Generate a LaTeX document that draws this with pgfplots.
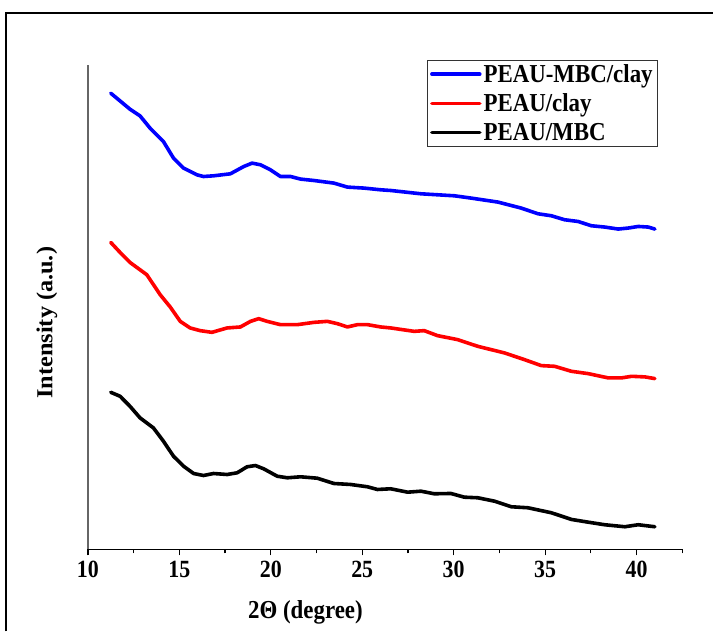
\documentclass[border=0pt]{standalone}
\usepackage{pgfplots}
\pgfplotsset{compat=1.18}
\usepackage{fontspec}
\setmainfont{Liberation Serif}
\newcommand{\vs}[1]{\scalebox{1}[1.13]{#1}}
\begin{document}
\begin{tikzpicture}
\begin{axis}[
  scale only axis,
  width=595bp, height=485bp,
  xmin=10, xmax=42.5, ymin=0, ymax=485,
  axis x line=bottom, axis y line=left,
  axis line style={-},
  x axis line style={black, line width=1.2bp},
  y axis line style={black!60, line width=1.2bp},
  xtick={10,15,...,40}, minor xtick={12.5,17.5,...,42.5},
  ytick=\empty,
  tick align=outside,
  major tick length=6bp, minor tick length=4bp,
  every tick/.style={black, line width=1.2bp},
  xticklabel={\vs{\pgfmathprintnumber[assume math mode=true]{\tick}}},
  tick label style={font=\fontsize{22}{26}\selectfont\bfseries},
  xticklabel style={yshift=-2bp},
  xlabel={\vs{2Θ (degree)}},
  ylabel={\scalebox{1.06}[1]{Intensity (a.u.)}},
  label style={font=\fontsize{23}{27}\selectfont\bfseries},
  xlabel style={at={(rel axis cs:0.366,0)}, anchor=center, yshift=-63bp},
  ylabel style={at={(rel axis cs:-0.069,0.468)}, anchor=center, rotate=0},
  legend cell align=left,
  legend style={at={(rel axis cs:0.570,1.010)}, anchor=north west,
    draw=black!80, line width=0.8bp,
    font=\fontsize{23}{27}\selectfont\bfseries,
    row sep=6bp, inner xsep=3bp, inner ysep=2bp},
  legend image code/.code={\draw[#1, line width=3.5bp, line cap=round] (0bp,0bp) -- (48bp,0bp);},
  clip=false,
]
\addplot[blue, line width=3.6bp, line join=round, line cap=round] coordinates {
(11.25,456.7)(12.30,440.7)(12.85,434)(13.40,421.7)(14.13,408.3)(14.68,391.7)
(15.23,381.7)(15.96,375)(16.32,373.3)(16.87,374)(17.79,376)(18.52,383.3)
(18.98,386.7)(19.44,385)(19.98,380)(20.53,373.3)(21.08,373.3)(21.63,370.7)
(22.36,369.3)(23.45,366.7)(24.19,362.7)(25.10,361.7)(26.01,360)(26.56,359.3)
(28.21,356)(30.04,354)(30.95,351.7)(32.42,347.7)(33.69,341.7)(34.61,336)
(35.34,334)(36.07,330)(36.80,328.3)(37.53,324)(38.26,322.7)(39.00,320.7)
(39.54,321.7)(40.09,323.3)(40.64,322.7)(41.00,320.7)
};
\addlegendentry{\vs{PEAU-MBC/clay}}
\addplot[red, line width=3.6bp, line join=round, line cap=round] coordinates {
(11.25,307.3)(11.76,297.3)(12.30,287.3)(13.22,275)(13.95,255)(14.50,242.7)
(15.05,228.3)(15.59,221.7)(16.14,219)(16.78,217.3)(17.61,221.7)(18.34,222.7)
(18.89,228.3)(19.34,231)(19.80,228.3)(20.53,225)(21.45,225)(22.36,227.3)
(23.09,228.3)(23.64,226)(24.19,222.7)(24.74,225)(25.29,225)(26.01,222.7)
(26.56,221.7)(27.84,218.3)(28.39,219)(29.12,214)(30.22,210)(31.32,203.3)
(32.78,196.7)(33.87,190)(34.79,184)(35.52,183.3)(36.44,178.3)(37.35,176)
(38.45,171.7)(39.18,171.7)(39.73,173.3)(40.46,172.7)(41.00,171)
};
\addlegendentry{\vs{PEAU/clay}}
\addplot[black, line width=3.6bp, line join=round, line cap=round] coordinates {
(11.25,157.3)(11.76,153.3)(12.30,143.3)(12.85,131.7)(13.58,121.7)(14.13,108.3)
(14.68,93.3)(15.23,83.3)(15.78,76)(16.32,74)(16.87,76)(17.61,75)(18.16,76.7)
(18.70,82.7)(19.16,84)(19.61,80.7)(20.35,73.3)(20.90,71.7)(21.63,72.7)
(22.54,71.3)(23.45,66)(24.37,65)(25.29,62.7)(25.83,60)(26.56,60.7)
(27.48,57.3)(28.21,58.3)(28.94,55.7)(29.85,56)(30.58,52.3)(31.32,51.7)
(32.23,48.3)(33.15,42.7)(34.06,41.7)(35.34,36.7)(36.44,30)(37.35,27.3)
(38.26,24.7)(39.36,22.7)(40.09,24.7)(41.00,22.7)
};
\addlegendentry{\vs{PEAU/MBC}}
\end{axis}
\path (-88bp,-82bp) rectangle (626bp,550bp);
\draw[line width=1.5bp] (-82bp,-82bp) -- (-82bp,537bp) -- (626bp,537bp);
\end{tikzpicture}
\end{document}
